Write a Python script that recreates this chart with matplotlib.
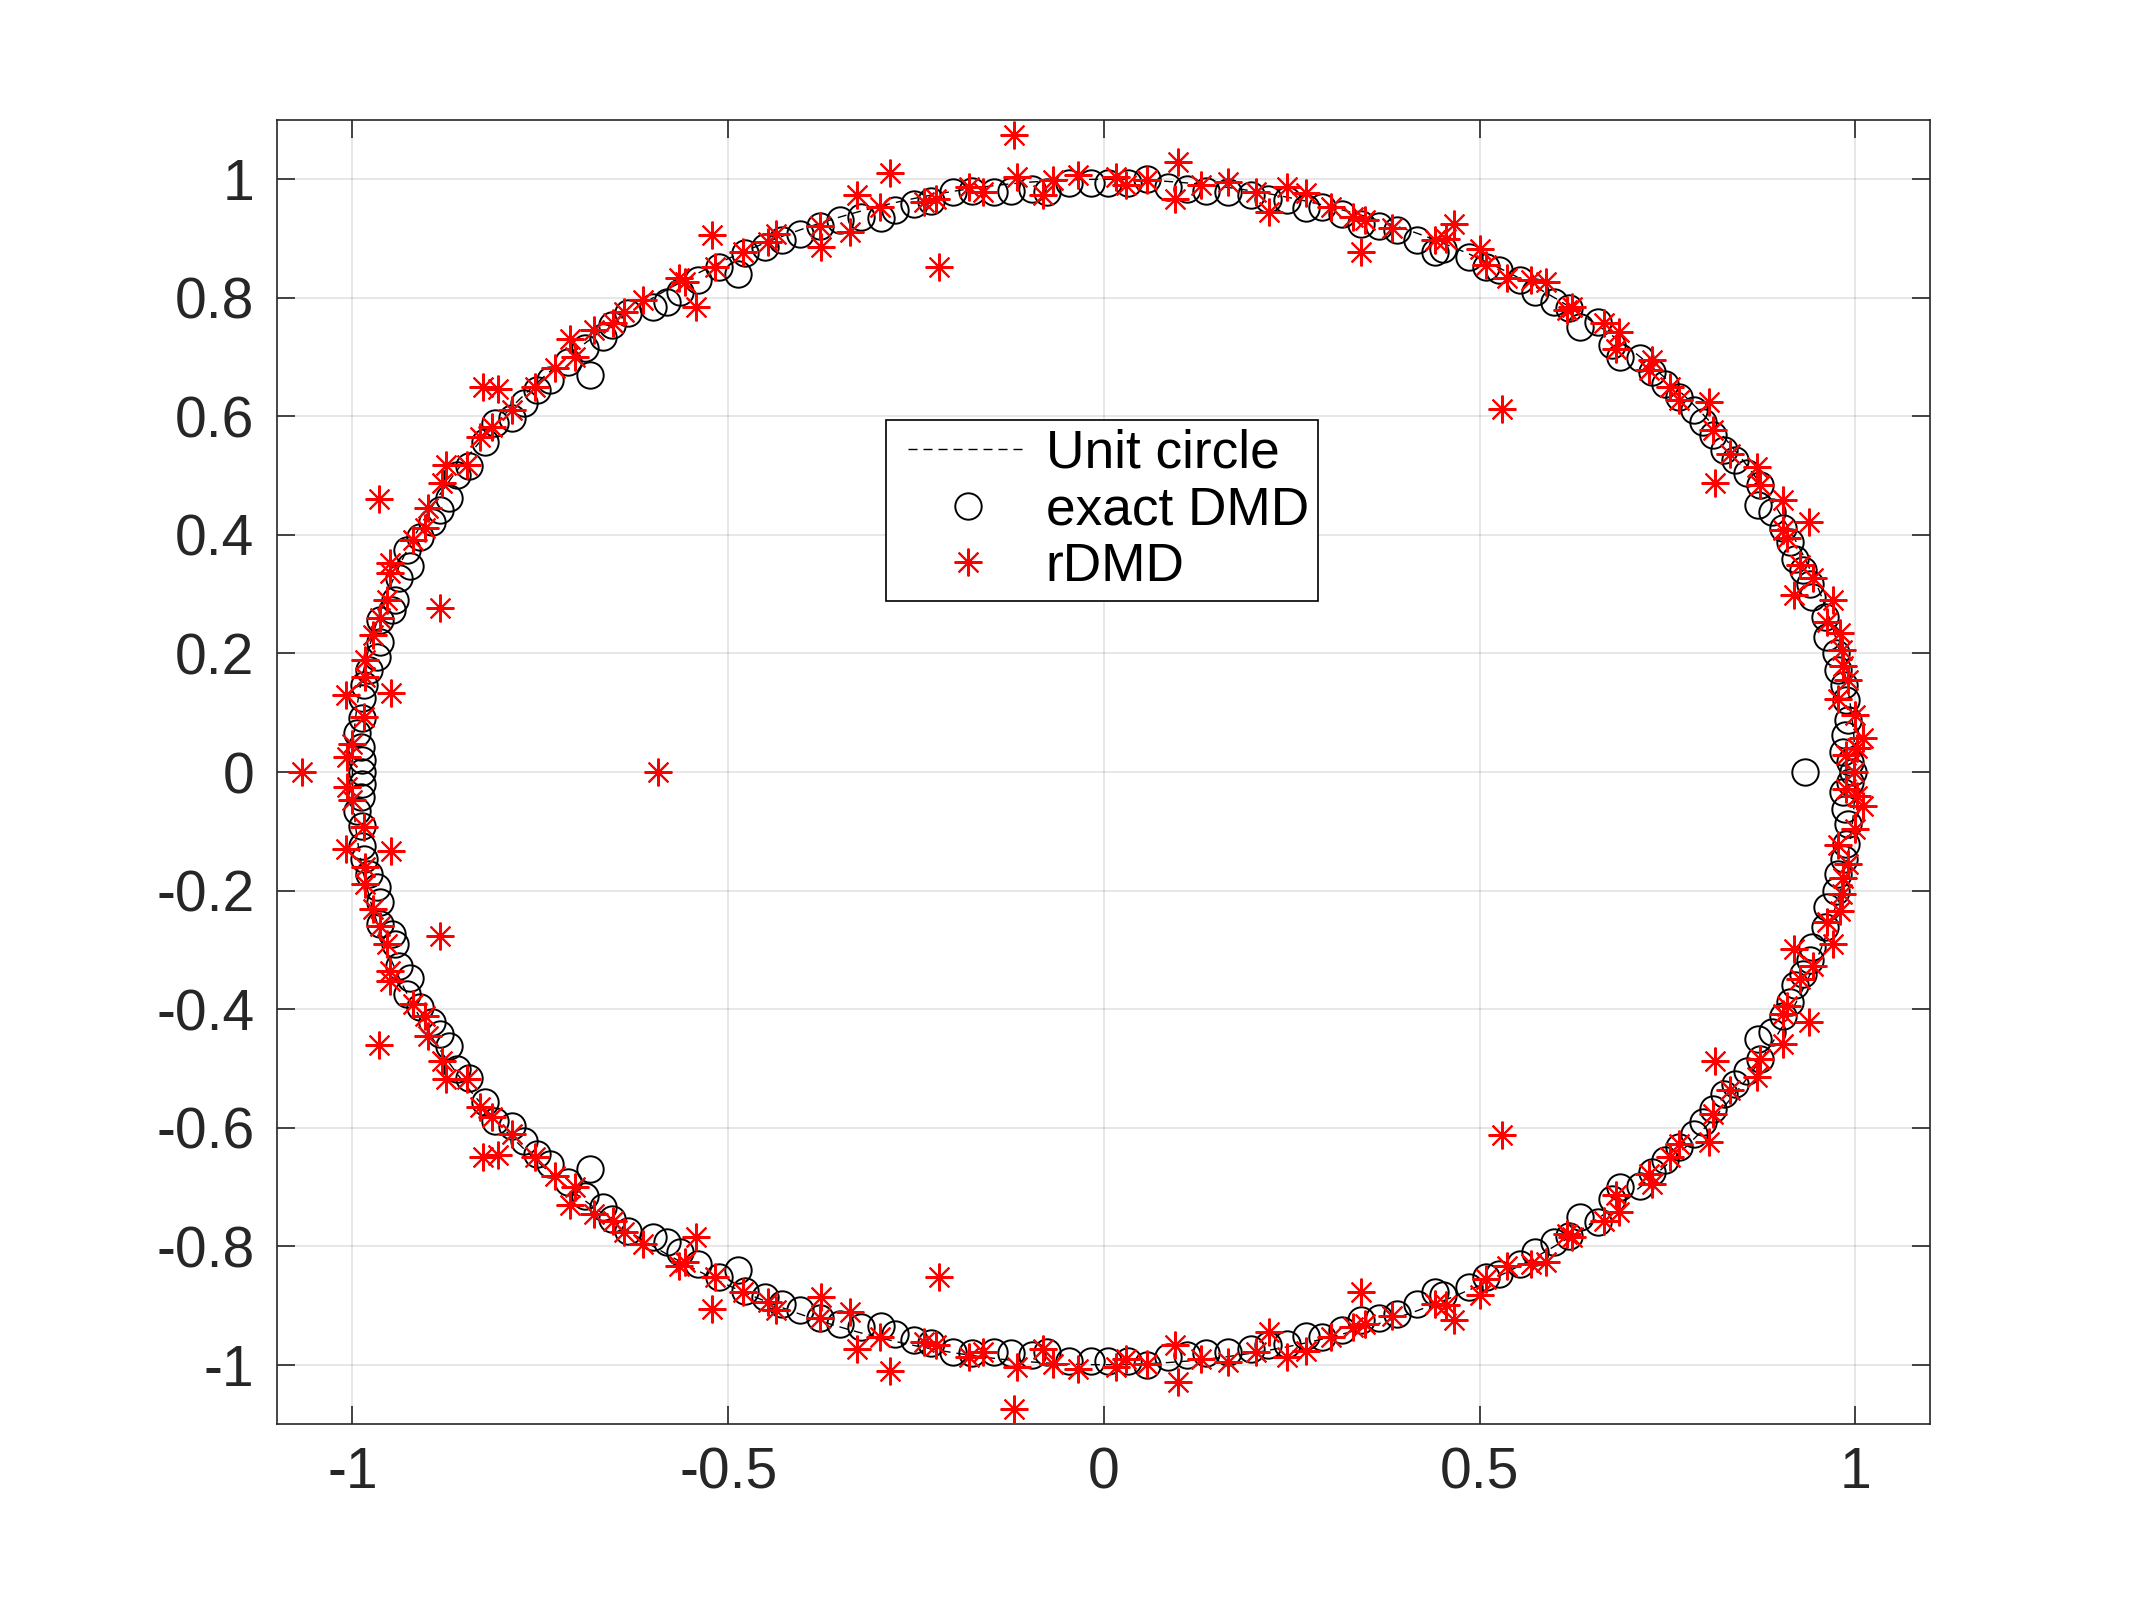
import numpy as np
import matplotlib
matplotlib.use("Agg")
import matplotlib.pyplot as plt
from matplotlib.legend_handler import HandlerLine2D
from matplotlib.lines import Line2D

plt.rcParams['font.family'] = ['Liberation Sans', 'DejaVu Sans']
plt.rcParams['axes.unicode_minus'] = False

# ---- exact DMD eigenvalues (upper half-plane; conjugates added below) ----
exact_x = [-0.987, -0.989, -0.994, -0.987, -0.987, -0.985, -0.978, -0.967, -0.963, -0.963,
           -0.947, -0.943, -0.938, -0.923, -0.927, -0.910, -0.894, -0.883, -0.872, -0.861,
           -0.845, -0.823, -0.810, -0.787, -0.772, -0.754, -0.737, -0.713, -0.690, -0.684,
           -0.666, -0.655, -0.633, -0.600, -0.582, -0.564,
           -0.540, -0.512, -0.487, -0.478, -0.451, -0.428, -0.405, -0.378, -0.351, -0.323,
           -0.296, -0.278, -0.252, -0.230, -0.201, -0.176, -0.146, -0.123, -0.095, -0.075,
           -0.046, -0.017,
           0.005, 0.032, 0.058, 0.085, 0.111, 0.136, 0.165, 0.196, 0.218, 0.244,
           0.269, 0.291, 0.317, 0.342, 0.366, 0.390, 0.417, 0.441, 0.452, 0.486, 0.508,
           0.526, 0.554, 0.574, 0.599, 0.619, 0.634, 0.658, 0.676, 0.687, 0.714,
           0.729, 0.747, 0.765, 0.785, 0.798, 0.811, 0.826,
           0.840, 0.856, 0.873, 0.871, 0.889, 0.904, 0.913, 0.920, 0.931, 0.940,
           0.942, 0.960, 0.962, 0.975, 0.977, 0.985, 0.988, 0.991, 0.986, 0.984, 0.993]
exact_y = [0.020, 0.043, 0.065, 0.091, 0.125, 0.146, 0.172, 0.194, 0.220, 0.256,
           0.273, 0.290, 0.327, 0.347, 0.374, 0.397, 0.422, 0.442, 0.462, 0.501,
           0.516, 0.556, 0.589, 0.597, 0.622, 0.644, 0.661, 0.691, 0.715, 0.669,
           0.734, 0.754, 0.774, 0.785, 0.793, 0.809,
           0.830, 0.852, 0.841, 0.875, 0.886, 0.897, 0.907, 0.922, 0.931, 0.936,
           0.934, 0.948, 0.959, 0.963, 0.979, 0.981, 0.979, 0.981, 0.984, 0.979,
           0.993, 0.993,
           0.993, 0.993, 1.001, 0.987, 0.984, 0.981, 0.979, 0.973, 0.967, 0.965,
           0.951, 0.953, 0.942, 0.925, 0.922, 0.914, 0.897, 0.877, 0.883, 0.869, 0.852,
           0.847, 0.830, 0.810, 0.793, 0.782, 0.751, 0.759, 0.720, 0.700, 0.698,
           0.675, 0.655, 0.633, 0.610, 0.591, 0.568, 0.543,
           0.526, 0.504, 0.484, 0.450, 0.439, 0.411, 0.388, 0.360, 0.341, 0.318,
           0.296, 0.262, 0.228, 0.200, 0.172, 0.146, 0.121, 0.088, 0.062, 0.034, 0.017]
exact_real = [-0.987, 0.933, 0.997]

# ---- rDMD eigenvalues (upper half-plane; conjugates added below) ----
rdmd_x = [-1.007, -1.000, -0.985, -1.008, -0.949, -0.983, -0.983, -0.972, -0.963, -0.883,
          -0.954, -0.950, -0.950, -0.919, -0.903, -0.899, -0.965, -0.881, -0.876, -0.848,
          -0.830, -0.814, -0.788, -0.826, -0.806, -0.757, -0.730, -0.704, -0.710, -0.679,
          -0.653, -0.639, -0.613, -0.566, -0.557, -0.543, -0.522, -0.518, -0.480, -0.447,
          -0.436, -0.378, -0.376, -0.338, -0.329, -0.298, -0.285, -0.239, -0.223, -0.220,
          -0.179, -0.161, -0.120, -0.115, -0.081, -0.068, -0.035,
          0.016, 0.030, 0.058, 0.099, 0.095, 0.129, 0.165, 0.202, 0.220, 0.244,
          0.269, 0.302, 0.331, 0.348, 0.342, 0.384, 0.441, 0.455, 0.466, 0.501,
          0.508, 0.530, 0.537, 0.568, 0.588, 0.616, 0.623, 0.665, 0.685, 0.681,
          0.729, 0.725, 0.754, 0.765, 0.805, 0.811, 0.833, 0.813, 0.869, 0.873,
          0.904, 0.938, 0.904, 0.909, 0.926, 0.944, 0.918, 0.971, 0.962, 0.980,
          0.982, 0.984, 0.991, 0.977, 1.000, 1.011, 1.002, 0.988]
rdmd_y = [0.026, 0.048, 0.093, 0.130, 0.133, 0.161, 0.189, 0.231, 0.259, 0.276,
          0.290, 0.335, 0.352, 0.391, 0.411, 0.445, 0.461, 0.487, 0.518, 0.518,
          0.565, 0.582, 0.610, 0.650, 0.647, 0.650, 0.681, 0.700, 0.731, 0.745,
          0.757, 0.776, 0.796, 0.833, 0.826, 0.785, 0.906, 0.852, 0.877, 0.894,
          0.908, 0.922, 0.886, 0.911, 0.973, 0.953, 1.010, 0.962, 0.967, 0.852,
          0.987, 0.979, 1.074, 1.004, 0.973, 0.998, 1.007,
          1.004, 0.990, 0.998, 1.029, 0.967, 0.990, 0.995, 0.979, 0.945, 0.987,
          0.976, 0.953, 0.936, 0.931, 0.877, 0.917, 0.897, 0.900, 0.925, 0.883,
          0.855, 0.613, 0.833, 0.830, 0.827, 0.779, 0.785, 0.757, 0.743, 0.714,
          0.695, 0.678, 0.650, 0.627, 0.624, 0.577, 0.537, 0.487, 0.515, 0.484,
          0.459, 0.422, 0.408, 0.394, 0.349, 0.327, 0.298, 0.290, 0.253, 0.234,
          0.206, 0.178, 0.155, 0.124, 0.096, 0.057, 0.040, 0.029]
rdmd_real = [-1.067, -0.593, 0.998]

xticks = [-1, -0.5, 0, 0.5, 1]
yticks = [-1, -0.8, -0.6, -0.4, -0.2, 0, 0.2, 0.4, 0.6, 0.8, 1]
xtick_labels = ['-1', '-0.5', '0', '0.5', '1']
ytick_labels = ['-1', '-0.8', '-0.6', '-0.4', '-0.2', '0', '0.2', '0.4', '0.6', '0.8', '1']

# complex-conjugate pairs
ex = np.concatenate([exact_x, exact_x, exact_real])
ey = np.concatenate([exact_y, -np.array(exact_y), np.zeros(len(exact_real))])
rx = np.concatenate([rdmd_x, rdmd_x, rdmd_real])
ry = np.concatenate([rdmd_y, -np.array(rdmd_y), np.zeros(len(rdmd_real))])

fig = plt.figure(figsize=(21.33, 16), dpi=100)
ax = fig.add_axes([0.13, 0.11, 0.775, 0.815])

th = np.linspace(0, 2 * np.pi, 600)
ax.plot(np.cos(th), np.sin(th), color='black', linestyle=(0, (6.5, 4.3)), linewidth=1.0,
        label='Unit circle', zorder=2)
ax.plot(ex, ey, linestyle='none', marker='o', markersize=19, markerfacecolor='none',
        markeredgecolor='black', markeredgewidth=1.4, label='exact DMD', zorder=3)
ax.plot(rx, ry, linestyle='none', marker=(8, 2, 0), markersize=20,
        markeredgecolor='red', color='red', markeredgewidth=1.5, label='rDMD', zorder=4)

ax.set_xlim(-1.1, 1.1)
ax.set_ylim(-1.1, 1.1)
ax.set_xticks(xticks)
ax.set_xticklabels(xtick_labels)
ax.set_yticks(yticks)
ax.set_yticklabels(ytick_labels)

axcol = '#262626'
for s in ax.spines.values():
    s.set_color(axcol)
    s.set_linewidth(1.2)
ax.tick_params(direction='in', length=13, width=1.2, colors=axcol, labelsize=41,
               top=True, right=True)
ax.tick_params(axis='x', pad=16)
ax.tick_params(axis='y', pad=16.5)
ax.grid(True, color='#262626', alpha=0.13, linewidth=1.2)
ax.set_axisbelow(True)

leg = ax.legend(loc='upper left', bbox_to_anchor=(0.368, 0.770), fontsize=38.3,
                frameon=True, fancybox=False, framealpha=1, edgecolor='black',
                handlelength=2.51, handletextpad=0.33, labelspacing=0.12,
                borderpad=0.17, borderaxespad=0,
                handler_map={Line2D: HandlerLine2D(xpad=0.26)})
leg.get_frame().set_linewidth(1.2)
for t in leg.get_texts():
    t.set_color('black')

fig.savefig('out.png', dpi=100, facecolor='white')
